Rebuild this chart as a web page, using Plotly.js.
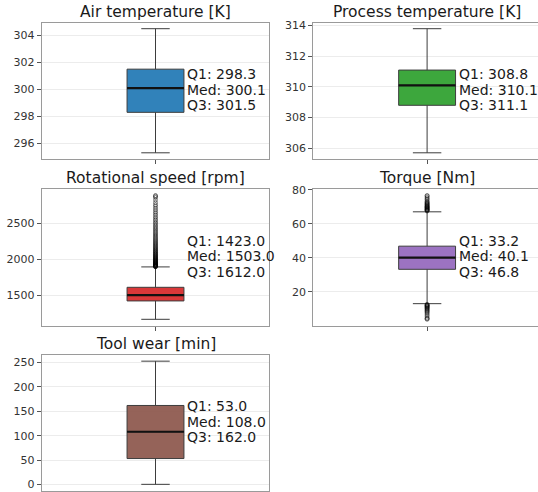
<!DOCTYPE html>
<html>
<head>
<meta charset="utf-8">
<script src="https://cdn.plot.ly/plotly-3.0.1.min.js"></script>
<style>html,body{margin:0;padding:0;background:#fff;}#chart{width:538px;height:492px;}</style>
</head>
<body>
<div id="chart"></div>
<script>
// ---- Data ----
const titles = ['Air temperature [K]', 'Process temperature [K]', 'Rotational speed [rpm]', 'Torque [Nm]', 'Tool wear [min]'];
const q1Vals = [298.3, 308.8, 1423.0, 33.2, 53.0];
const medVals = [300.1, 310.1, 1503.0, 40.1, 108.0];
const q3Vals = [301.5, 311.1, 1612.0, 46.8, 162.0];
const lowWhisker = [295.3, 305.7, 1168, 13.0, 0];
const highWhisker = [304.5, 313.8, 1895, 67.0, 253];
const airOutliers = [];
const processOutliers = [];
const rotOutliers = [1896, 1899, 1903, 1906, 1910, 1914, 1918, 1922, 1926, 1931, 1935, 1940, 1944, 1949, 1954, 1959, 1964, 1970, 1975, 1981, 1987, 1993, 1999, 2006, 2012, 2019, 2026, 2033, 2040, 2048, 2056, 2064, 2072, 2081, 2090, 2099, 2108, 2118, 2128, 2138, 2149, 2160, 2171, 2183, 2195, 2207, 2220, 2233, 2247, 2261, 2275, 2290, 2305, 2321, 2337, 2353, 2370, 2388, 2406, 2424, 2443, 2462, 2482, 2502, 2523, 2545, 2567, 2590, 2613, 2637, 2661, 2686, 2710, 2737, 2760, 2790, 2825, 2858, 2874, 2886];
const torqueOutliers = [67.5, 67.8, 68.0, 68.2, 68.5, 68.7, 69.0, 69.3, 69.5, 69.8, 70.0, 70.3, 70.6, 71.0, 71.3, 71.6, 72.0, 72.4, 72.8, 73.3, 74.1, 74.7, 75.4, 76.2, 76.6,
  12.6, 12.3, 12.0, 11.8, 11.5, 11.2, 10.9, 10.5, 10.2, 9.8, 9.3, 8.9, 8.4, 7.9, 7.2, 6.4, 5.6, 4.6, 4.2, 3.8];
const toolOutliers = [];
const outliers = [airOutliers, processOutliers, rotOutliers, torqueOutliers, toolOutliers];
const yDticks = [2, 2, 500, 20, 50];

// ---- Styling ----
const fillColors = ['rgba(31,119,180,0.92)', 'rgba(44,160,44,0.92)', 'rgba(214,39,40,0.92)', 'rgba(148,103,189,0.92)', 'rgba(140,86,75,0.92)'];
const W = 538, H = 492;
// panel pixel boxes: [left, right, top, bottom]
const panels = [
  [41.7, 269.3, 22.5, 159],
  [313.3, 538, 22.5, 159],
  [41.7, 269.3, 189.3, 325.5],
  [313.3, 538, 189.3, 325.5],
  [41.7, 269.3, 355, 490.5]
];
const fullWidth = 227.6;
const boxW = 0.25;

const traces = [];
const layout = {
  width: W, height: H,
  margin: {l: 0, r: 0, t: 0, b: 0},
  paper_bgcolor: '#ffffff', plot_bgcolor: '#ffffff',
  showlegend: false,
  font: {family: 'DejaVu Sans', color: '#262626'},
  annotations: []
};

titles.forEach((t, i) => {
  const n = i + 1;
  const xa = 'x' + n, ya = 'y' + n;
  const [pl, pr, pt, pb] = panels[i];
  const w = pr - pl;
  const frac = (fullWidth / 2) / w;
  const xr = [-0.5, 0.5 / frac - 0.5];

  const outs = outliers[i];
  const allVals = outs.concat([lowWhisker[i], highWhisker[i]]);
  const vmin = Math.min(...allVals), vmax = Math.max(...allVals);
  const span = vmax - vmin;
  const yr = [vmin - 0.05 * span, vmax + 0.05 * span];

  traces.push({
    type: 'box', xaxis: xa, yaxis: ya,
    x: [0], q1: [q1Vals[i]], median: [medVals[i]], q3: [q3Vals[i]],
    lowerfence: [lowWhisker[i]], upperfence: [highWhisker[i]],
    width: boxW, whiskerwidth: 0.5,
    fillcolor: fillColors[i],
    line: {color: '#3d3d3d', width: 1},
    boxpoints: false, hoverinfo: 'skip'
  });
  traces.push({
    type: 'scatter', mode: 'lines', xaxis: xa, yaxis: ya,
    x: [-boxW / 2, boxW / 2], y: [medVals[i], medVals[i]],
    line: {color: '#111111', width: 2.2}, hoverinfo: 'skip'
  });
  if (outs.length) {
    traces.push({
      type: 'scatter', mode: 'markers', xaxis: xa, yaxis: ya,
      x: outs.map(() => 0), y: outs,
      marker: {symbol: 'circle-open', size: 4, color: 'rgba(0,0,0,0.45)', line: {width: 1, color: 'rgba(0,0,0,0.45)'}},
      hoverinfo: 'skip'
    });
  }

  const key = n === 1 ? '' : n;
  layout['xaxis' + key] = {
    domain: [pl / W, pr / W], anchor: ya, range: xr,
    tickvals: [0], ticktext: [''], ticks: 'outside', ticklen: 4, tickcolor: '#555',
    showgrid: false, zeroline: false, showline: true, mirror: true,
    linecolor: '#9a9a9a', linewidth: 1, fixedrange: true
  };
  layout['yaxis' + key] = {
    domain: [1 - pb / H, 1 - pt / H], anchor: xa, range: yr, dtick: yDticks[i],
    ticks: 'outside', ticklen: 4, tickcolor: '#555',
    tickfont: {family: 'DejaVu Sans', size: 11, color: '#333'},
    showgrid: true, gridcolor: '#ececec', gridwidth: 1, zeroline: false,
    showline: true, mirror: true, linecolor: '#9a9a9a', linewidth: 1, fixedrange: true
  };

  layout.annotations.push({
    text: t, xref: xa + ' domain', yref: ya + ' domain',
    x: (fullWidth / 2) / w, y: 1, xanchor: 'center', yanchor: 'bottom', yshift: 0,
    showarrow: false, font: {family: 'DejaVu Sans', size: 15.5, color: '#1a1a1a'}
  });
  const lines = ['Q1: ' + q1Vals[i].toFixed(1), 'Med: ' + medVals[i].toFixed(1), 'Q3: ' + q3Vals[i].toFixed(1)];
  lines.forEach((s, k) => {
    layout.annotations.push({
      text: s, xref: xa, yref: ya + ' domain',
      x: boxW / 2, y: 0.5, xanchor: 'left', yanchor: 'middle',
      xshift: 1, yshift: 1 + (1 - k) * 15.5,
      showarrow: false, font: {family: 'DejaVu Sans', size: 14, color: '#1a1a1a'}
    });
  });
});

Plotly.newPlot('chart', traces, layout, {staticPlot: true, displayModeBar: false});
</script>
</body>
</html>
